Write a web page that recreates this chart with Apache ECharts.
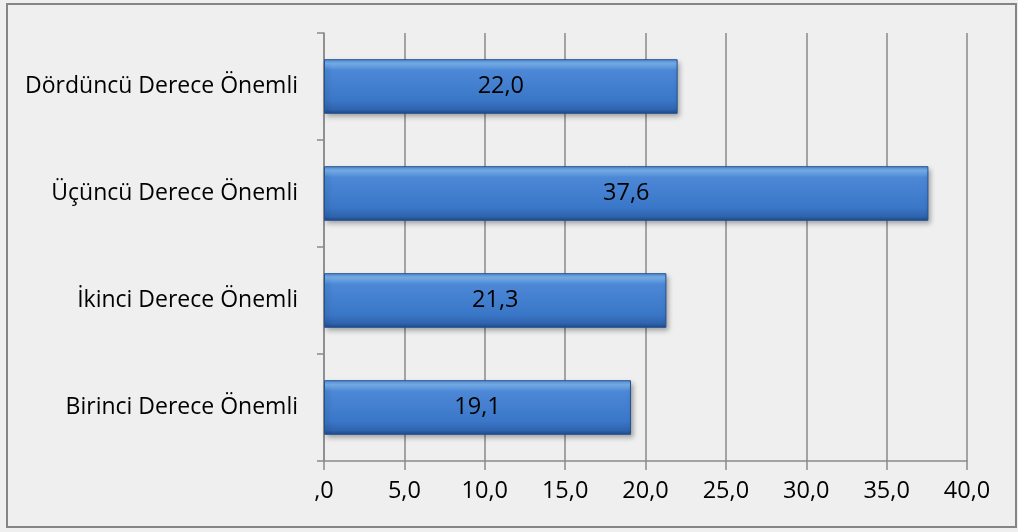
<!DOCTYPE html>
<html><head><meta charset="utf-8">
<script src="https://cdn.jsdelivr.net/npm/echarts@6/dist/echarts.min.js"></script>
<style>html,body{margin:0;padding:0;background:#fff}#c{width:1018px;height:532px}</style>
</head><body><div id="c"></div>
<script>
const categories = ['Birinci Derece Önemli', 'İkinci Derece Önemli', 'Üçüncü Derece Önemli', 'Dördüncü Derece Önemli'];
const values = [19.1, 21.3, 37.6, 22.0];
const axisMin = 0, axisMax = 40, axisStep = 5;

function fmt(v) {
  const s = Number(v).toFixed(1).replace('.', ',');
  return s.startsWith('0,') ? s.slice(1) : s;
}
const chart = echarts.init(document.getElementById('c'), null, {renderer: 'canvas'});
const font = '"Open Sans", "Noto Sans", sans-serif';
chart.setOption({
  backgroundColor: '#efefef',
  graphic: [{type: 'rect', shape: {x: 7, y: 4, width: 1009, height: 523}, style: {fill: 'none', stroke: '#858585', lineWidth: 2}, silent: true}],
  grid: {left: 324, right: 51, top: 33, bottom: 71},
  xAxis: {
    type: 'value', min: axisMin, max: axisMax, interval: axisStep,
    axisLine: {show: true, lineStyle: {color: '#8a8a8a', width: 1.5}},
    axisTick: {show: true, length: 9, lineStyle: {color: '#8a8a8a', width: 1.5}},
    splitLine: {show: true, lineStyle: {color: '#8a8a8a', width: 1.5}},
    axisLabel: {formatter: fmt, color: '#000', fontSize: 23.5, fontFamily: font, margin: 18}
  },
  yAxis: {
    type: 'category', data: categories,
    axisLine: {show: true, lineStyle: {color: '#8a8a8a', width: 1.5}},
    axisTick: {show: true, length: 7, lineStyle: {color: '#8a8a8a', width: 1.5}},
    axisLabel: {color: '#000', fontSize: 23, fontFamily: font, margin: 26}
  },
  series: [{
    type: 'bar', data: values, barWidth: '51%',
    itemStyle: {
      color: new echarts.graphic.LinearGradient(0, 0, 0, 1, [
        {offset: 0, color: '#4f8fdc'},
        {offset: 0.08, color: '#7ab3ee'},
        {offset: 0.2, color: '#4c88d6'},
        {offset: 0.75, color: '#3b77c8'},
        {offset: 0.92, color: '#2f64ae'},
        {offset: 1, color: '#1d4a88'}
      ]),
      borderColor: '#24518f', borderWidth: 1,
      shadowColor: 'rgba(0,0,0,0.35)', shadowBlur: 5, shadowOffsetX: 2, shadowOffsetY: 3
    },
    label: {show: true, position: 'inside', formatter: p => fmt(p.value), color: '#000', fontSize: 23.5, fontFamily: font},
    animation: false
  }],
  animation: false
});
</script></body></html>
